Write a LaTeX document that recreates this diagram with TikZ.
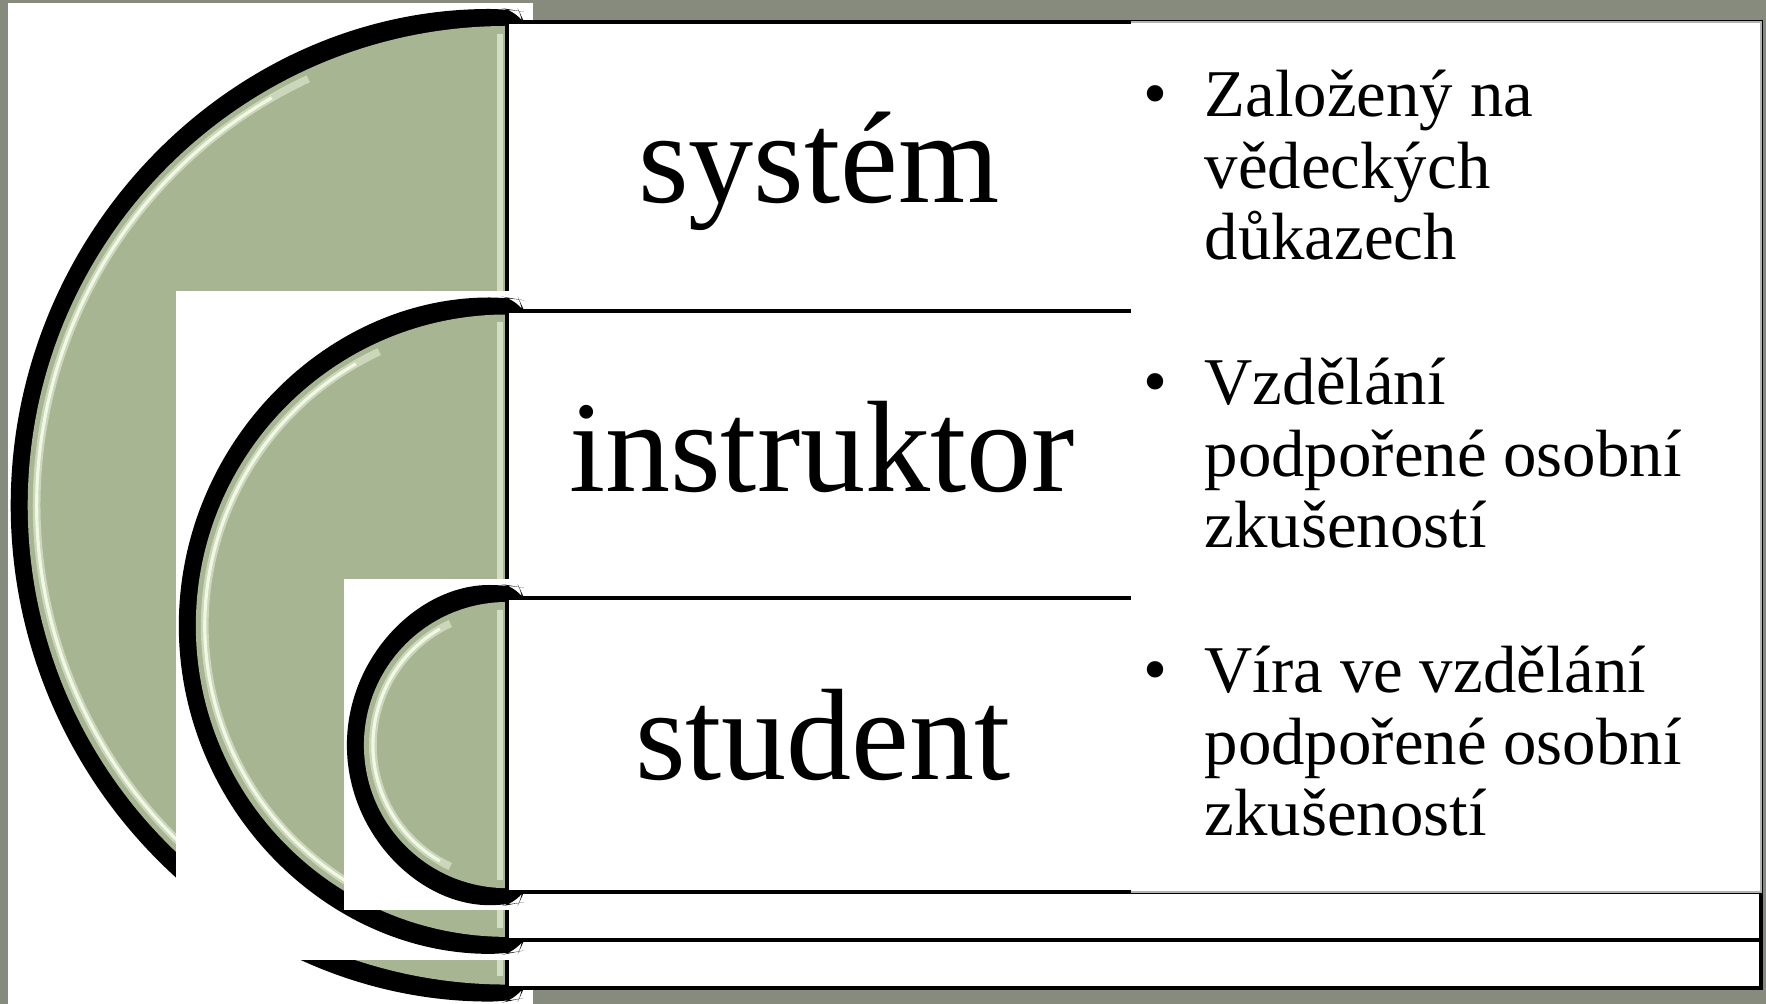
\documentclass[tikz,border=0pt]{standalone}
\usepackage{fontspec}
\setmainfont{Liberation Serif}
\usepackage{xcolor}
\usepackage{tikz}
\definecolor{slate}{RGB}{134,139,125}
\definecolor{sage}{RGB}{167,181,146}
\definecolor{sagelight}{RGB}{240,248,228}
\tikzset{
  tab/.style={draw=black, line width=1pt, fill=white},
  word/.style={font=\fontsize{37}{40}\selectfont, anchor=base, inner sep=0pt},
  dot/.style={font=\fontsize{19.5}{20.2}\selectfont, anchor=base, inner sep=0pt},
  note/.style={font=\fontsize{19}{20.2}\selectfont, anchor=base west, inner sep=0pt}
}

\begin{document}
\begin{tikzpicture}[x=0.01cm,y=-0.01cm]
\fill[slate] (0,0) rectangle (1766,1004);
\useasboundingbox (0,0) rectangle (1766,1004);
\foreach \top/\bot/\r/\bx/\by/\bb in {22/988/479/8/3/1004,311/940/311/176/291/960,598/892/143/344/579/910}{
  \pgfmathsetmacro\cy{(\top+\bot)/2}
  \pgfmathsetmacro\ro{(\r+17)/100}
  \pgfmathsetmacro\ri{\r/100}
  \pgfmathsetmacro\rh{(\r-9)/100}
  \fill[white] (\bx,\by) rectangle (533,\bb);
  \fill[black, rounded corners=5pt] (507,\cy-\r-17) arc[start angle=90, end angle=270, radius=\ro cm]
    -- (519,\cy+\r+15) -- (525,\cy+\r+2) -- (525,\cy-\r-2) -- (519,\cy-\r-15) -- cycle;
  \fill[sage] (507,\cy-\r) arc[start angle=90, end angle=270, radius=\ri cm] -- cycle;
  \draw[sagelight!50!sage, line width=2.2pt] (507,\cy) ++(115:\rh cm) arc[start angle=115, end angle=245, radius=\rh cm];
  \draw[sagelight, line width=0.9pt] (507,\cy) ++(120:\rh cm) arc[start angle=120, end angle=240, radius=\rh cm];
  \draw[sagelight!60!sage, line width=1.6pt] (500,\cy-\r+8) -- (500,\cy+\r-8);
  \draw[tab] (1761,\bot) -- (507,\bot) -- (507,\top) -- (1761,\top) -- cycle;
}
\fill[white] (1131,22) rectangle (1761,892);
\draw[black!30, line width=0.3pt] (1131,22) -- (1761,22) -- (1761,892) -- (1131,892);

\node[word] (sys) at (819,203) {systém};
\node[word] (ins) at (822,492) {instruktor};
\node[word] (stu) at (823,780) {student};

\node[dot] (sysdot) at (1155,117) {\textbullet};
\node[note] (sysnote) at (1204,117) {\begin{tabular}[t]{@{}l@{}}Založený na\\vědeckých\\důkazech\end{tabular}};
\node[dot] (insdot) at (1155,405) {\textbullet};
\node[note] (insnote) at (1204,405) {\begin{tabular}[t]{@{}l@{}}Vzdělání\\podpořené osobní\\zkušeností\end{tabular}};
\node[dot] (studot) at (1155,693) {\textbullet};
\node[note] (stunote) at (1204,693) {\begin{tabular}[t]{@{}l@{}}Víra ve vzdělání\\podpořené osobní\\zkušeností\end{tabular}};
\end{tikzpicture}
\end{document}
